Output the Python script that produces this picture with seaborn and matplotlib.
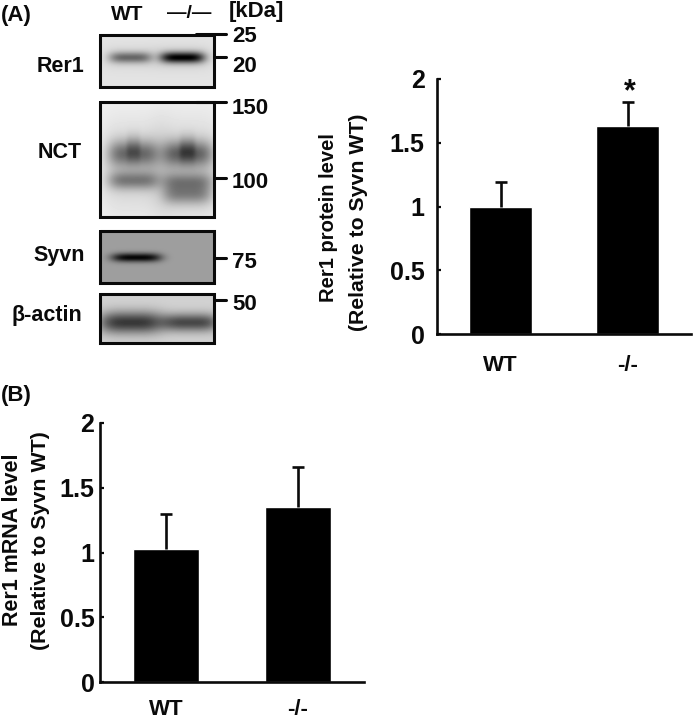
import numpy as np
import pandas as pd
import seaborn as sns
from matplotlib import pyplot as plt

# values
groups = ["WT", "-/-"]
protein_mean = [1.0, 1.63]
protein_err = [0.19, 0.19]
mrna_mean = [1.03, 1.354]
mrna_err = [0.27, 0.306]
y_ticks = [0, 0.5, 1, 1.5, 2]
y_labels = ["0", "0.5", "1", "1.5", "2"]

# blot panels: name, left, top, right, bottom, background grey (pixels)
blot_boxes = [
    ("Rer1", 100, 35, 214, 87, 0.89),
    ("NCT", 100, 102, 214, 217, 0.95),
    ("Syvn", 100, 231, 214, 283, 0.62),
    ("actin", 100, 294, 214, 343, 0.82),
]
# bands: cx, cy, half width, half height, darkness
rer1_bands = [(130, 57, 21, 5.5, 0.42), (182, 57, 22, 5.5, 0.80),
              (130, 57, 28, 11, 0.07), (182, 57, 30, 11, 0.10)]
nct_bands = [(133, 166, 34, 46, 0.14), (188, 170, 34, 50, 0.15),
             (133, 153, 25, 13, 0.42), (133, 148, 7, 13, 0.13), (133, 180, 25, 9, 0.36),
             (187, 153, 25, 13, 0.45), (187, 149, 8, 13, 0.17), (187, 181, 25, 9, 0.30),
             (187, 194, 24, 10, 0.32)]
syvn_bands = [(136, 257, 25, 4.5, 0.60)]
actin_bands = [(131, 322, 32, 11, 0.60), (190, 322, 28, 9, 0.54)]
all_bands = {"Rer1": rer1_bands, "NCT": nct_bands, "Syvn": syvn_bands, "actin": actin_bands}

# kDa marks: label, tick y, tick start x, label y
marker_rows = [("25", 34, 196, 36), ("20", 57, 214, 66), ("150", 102, 196, 109),
               ("100", 178, 214, 182), ("75", 258, 214, 262), ("50", 300, 214, 304)]
blot_names = [("Rer1", 60, 66), ("NCT", 60, 152), ("Syvn", 59, 255), ("β-actin", 47, 316)]

W, H = 693, 719
sns.set_theme(style="ticks")
plt.rcParams["font.family"] = ["Liberation Sans", "DejaVu Sans"]
plt.rcParams["font.weight"] = "bold"
ink = "#0a0a0a"

fig = plt.figure(figsize=(W / 100, H / 100), dpi=100)


def px_axes(left, top, right, bottom):
    return fig.add_axes([left / W, 1 - bottom / H, (right - left) / W, (bottom - top) / H])


def bar_panel(left, top, right, bottom, means, errs, pad, xpad):
    ax = px_axes(left, top, right, bottom)
    df = pd.DataFrame({"group": groups, "value": means})
    sns.barplot(data=df, x="group", y="value", color="black", saturation=1, width=0.5, ax=ax)
    bars = ax.errorbar([0, 1], means, yerr=[[0, 0], errs], fmt="none", ecolor=ink,
                       elinewidth=1.9, capsize=4, capthick=1.9)
    bars[1][0].set_visible(False)  # no cap on the bar top
    ax.set_xlim(-0.5, 1.5)
    ax.set_ylim(0, 2)
    ax.set_yticks(y_ticks, y_labels, fontsize=18, color=ink)
    ax.tick_params(axis="y", direction="in", length=3, width=1.6, pad=pad, color=ink)
    ax.tick_params(axis="x", length=0, pad=xpad, labelsize=16, labelcolor=ink)
    ax.set_xlabel("")
    ax.set_ylabel("")
    sns.despine(ax=ax)
    for side in ["left", "bottom"]:
        ax.spines[side].set_linewidth(1.9)
        ax.spines[side].set_color(ink)
    ax.patch.set_alpha(0)
    return ax


ax_a = bar_panel(437, 79, 691, 334, protein_mean, protein_err, 9, 15)
ax_b = bar_panel(100, 423, 364, 682, mrna_mean, mrna_err, 4, 12)

# everything else is placed in pixel coordinates on one overlay
over = fig.add_axes([0, 0, 1, 1])
over.axis("off")
over.patch.set_alpha(0)

for name, x0, y0, x1, y1, bg in blot_boxes:
    xs, ys = np.meshgrid(np.arange(x0, x1), np.arange(y0, y1))
    absorb = np.zeros(xs.shape)
    for cx, cy, sx, sy, amp in all_bands[name]:
        absorb += amp * np.exp(-((xs - cx) / sx) ** 4 - ((ys - cy) / sy) ** 2)
    img = np.clip(bg - absorb, 0, 1)
    over.imshow(img, cmap="gray", vmin=0, vmax=1, extent=(x0, x1, y1, y0),
                interpolation="bilinear", aspect="auto", zorder=1)
    over.plot([x0, x1, x1, x0, x0], [y0, y0, y1, y1, y0], color=ink, lw=2.2, zorder=2,
              solid_joinstyle="miter")
over.set_xlim(0, W)
over.set_ylim(H, 0)

for label, tick_y, tick_x, label_y in marker_rows:
    over.plot([tick_x, 226], [tick_y, tick_y], color=ink, lw=2.2, zorder=2)
    over.text(232, label_y, label, fontsize=16, color=ink, ha="left", va="center")

for label, x, y in blot_names:
    over.text(x, y, label, fontsize=15.5, color=ink, ha="center", va="center")

over.text(127, 15, "WT", fontsize=15, color=ink, ha="center", va="center")
over.text(189, 14, "—/—", fontsize=14, color=ink, ha="center", va="center")
over.text(256, 11, "[kDa]", fontsize=16, color=ink, ha="center", va="center")
over.text(1, 15, "(A)", fontsize=16, color=ink, ha="left", va="center")
over.text(1, 395, "(B)", fontsize=16, color=ink, ha="left", va="center")
over.text(630, 92, "*", fontsize=22, color=ink, ha="center", va="center")

over.text(329, 218, "Rer1 protein level", rotation=90, fontsize=14.5, color=ink, ha="center", va="center")
over.text(358, 222, "(Relative to Syvn WT)", rotation=90, fontsize=15.3, color=ink, ha="center", va="center")
over.text(13, 540, "Rer1 mRNA level", rotation=90, fontsize=15.5, color=ink, ha="center", va="center")
over.text(41, 541, "(Relative to Syvn WT)", rotation=90, fontsize=15.4, color=ink, ha="center", va="center")

fig.savefig("out.png", dpi=100)
